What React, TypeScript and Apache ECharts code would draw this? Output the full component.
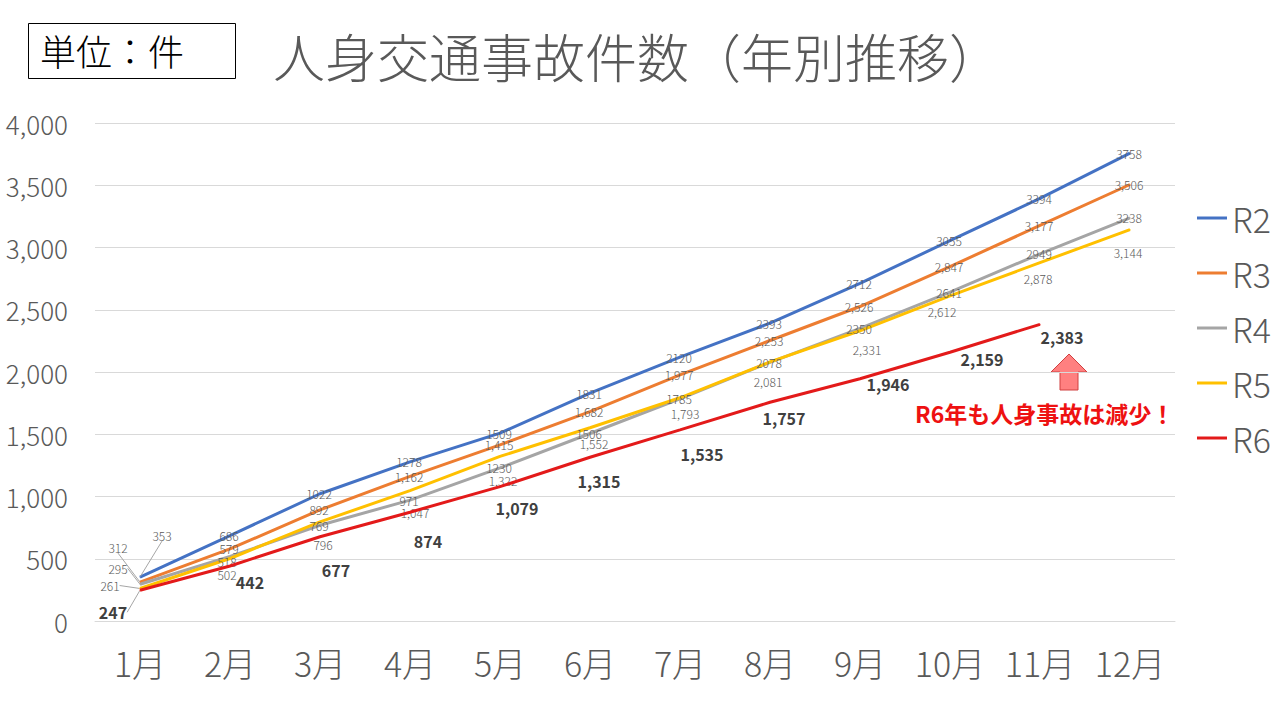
import React, { useEffect, useRef } from "react";
import * as echarts from "echarts";

const months = ["1月", "2月", "3月", "4月", "5月", "6月", "7月", "8月", "9月", "10月", "11月", "12月"];
const r2 = [353, 686, 1022, 1278, 1509, 1831, 2120, 2393, 2712, 3055, 3394, 3758];
const r3 = [312, 579, 892, 1162, 1415, 1682, 1977, 2253, 2526, 2847, 3177, 3506];
const r4 = [295, 518, 769, 971, 1230, 1506, 1785, 2078, 2350, 2641, 2949, 3238];
const r5 = [261, 502, 796, 1047, 1322, 1552, 1793, 2081, 2331, 2612, 2878, 3144];
const r6 = [247, 442, 677, 874, 1079, 1315, 1535, 1757, 1946, 2159, 2383];
const seriesNames = ["R2", "R3", "R4", "R5", "R6"];
const yTicks = [0, 500, 1000, 1500, 2000, 2500, 3000, 3500, 4000];

const FONT = "'Noto Sans CJK JP', 'Noto Sans', sans-serif";

// label nudges (pixels) to mimic the hand-placed labels of the original
const OFF_R2 = [[22, -42]];
const OFF_R3 = [[-22, -35]];
const OFF_R4 = [[-22, -16], [-3, 5]];
const OFF_R5 = [[-30, -3], [-3, 16], [3, 23], [5, 22], [3, 24], [4, 16], [5, 16], [-2, 20], [7, 19], [-8, 16], [-2, 16], [-2, 23]];
const OFF_R6 = [[-27, 22], [20, 16], [16, 33], [18, 29], [17, 21], [9, 24], [22, 24], [14, 16], [28, 5], [32, 7], [22, 13]];

export default function App() {
  const ref = useRef<HTMLDivElement>(null);
  useEffect(() => {
    if (!ref.current) return;
    const chart = echarts.init(ref.current, null, { renderer: "svg" });

    const fmtComma = (v: number) => v.toLocaleString("en-US");
    const fmtPlain = (v: number) => String(v);

    const mk = (
      name: string,
      values: number[],
      color: string,
      fmt: (v: number) => string,
      offsets: number[][],
      bold = false
    ) => ({
      name,
      type: "line",
      data: values.map((v, i) =>
        i === 0
          ? { value: v, labelLine: { show: true, lineStyle: { color: "#A6A6A6", width: 1 } } }
          : v
      ),
      symbol: "circle",
      symbolSize: 1,
      showSymbol: true,
      lineStyle: { width: 3, color },
      itemStyle: { color },
      label: {
        show: true,
        position: "inside",
        formatter: (p: any) => fmt(p.value),
        color: bold ? "#404040" : "#595959",
        fontSize: bold ? 16 : 12,
        fontWeight: bold ? "bold" : 300,
        fontFamily: FONT,
      },
      labelLine: { show: false },
      labelLayout: (p: any) => {
        const o = offsets[p.dataIndex] || [-1, 0];
        return { dx: o[0], dy: o[1], hideOverlap: false };
      },
      z: bold ? 5 : 3,
    });

    chart.setOption({
      animation: false,
      backgroundColor: "#ffffff",
      title: {
        text: "人身交通事故件数（年別推移）",
        left: 268,
        top: 24,
        textStyle: { fontSize: 52, fontWeight: 300, color: "#595959", fontFamily: FONT },
      },
      legend: {
        orient: "vertical",
        left: 1192,
        top: 196,
        itemWidth: 30,
        itemHeight: 3,
        itemGap: 21,
        icon: "rect",
        data: seriesNames,
        textStyle: { fontSize: 34, lineHeight: 34, fontWeight: 300, color: "#595959", fontFamily: FONT },
      },
      grid: { left: 95, right: 105, top: 123, bottom: 99 },
      xAxis: {
        type: "category",
        data: months,
        boundaryGap: true,
        axisLine: { show: true, lineStyle: { color: "#D9D9D9" } },
        axisTick: { show: false },
        axisLabel: { interval: 0, fontSize: 34, fontWeight: 300, color: "#595959", margin: 24, fontFamily: FONT },
      },
      yAxis: {
        type: "value",
        min: yTicks[0],
        max: yTicks[yTicks.length - 1],
        interval: 500,
        axisLine: { show: false },
        axisTick: { show: false },
        splitLine: { lineStyle: { color: "#D9D9D9" } },
        axisLabel: {
          fontSize: 26,
          fontWeight: 300,
          color: "#595959",
          margin: 27,
          fontFamily: FONT,
          formatter: (v: number) => v.toLocaleString("en-US"),
        },
      },
      series: [
        mk("R2", r2, "#4472C4", fmtPlain, OFF_R2),
        mk("R3", r3, "#ED7D31", fmtComma, OFF_R3),
        mk("R4", r4, "#A5A5A5", fmtPlain, OFF_R4),
        mk("R5", r5, "#FFC000", fmtComma, OFF_R5),
        mk("R6", r6, "#E31A1A", fmtComma, OFF_R6, true),
      ],
      graphic: [
        {
          type: "rect",
          shape: { x: 28.5, y: 23.5, width: 207, height: 55 },
          style: { fill: "#ffffff", stroke: "#000000", lineWidth: 1 },
        },
        {
          type: "text",
          x: 40,
          y: 50,
          style: {
            text: "単位：件",
            fontSize: 36,
            fontWeight: 300,
            fill: "#000000",
            fontFamily: FONT,
            verticalAlign: "middle",
          },
        },
        {
          type: "polygon",
          shape: {
            points: [
              [1069, 354],
              [1087, 372],
              [1078, 372],
              [1078, 390],
              [1060, 390],
              [1060, 372],
              [1051, 372],
            ],
          },
          style: { fill: "#FF8080", stroke: "#D04040", lineWidth: 1 },
        },
        {
          type: "text",
          x: 915,
          y: 413,
          style: {
            text: "R6年も人身事故は減少！",
            fontSize: 23,
            fontWeight: "bold",
            fill: "#EE1111",
            fontFamily: FONT,
            verticalAlign: "middle",
          },
        },
      ],
    });
    return () => chart.dispose();
  }, []);
  return (
    <div
      ref={ref}
      style={{ width: 1280, height: 720, position: "absolute", left: 0, top: 0 }}
    />
  );
}
